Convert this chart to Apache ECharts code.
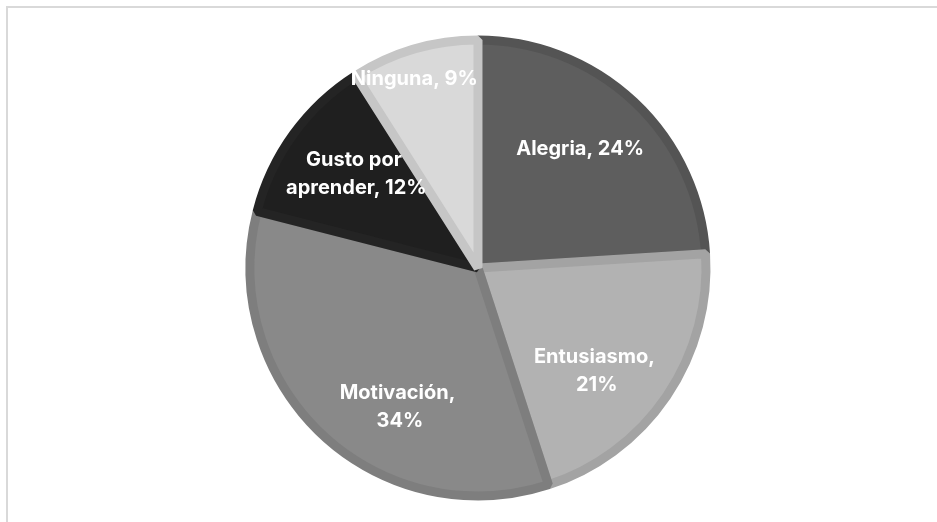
<!DOCTYPE html>
<html>
<head>
<meta charset="utf-8">
<script src="https://cdn.jsdelivr.net/npm/echarts@6/dist/echarts.min.js"></script>
<style>
  html, body { margin: 0; padding: 0; background: #ffffff; }
  #chart { width: 937px; height: 522px; }
</style>
</head>
<body>
<div id="chart"></div>
<script>
// ---- data ----
const categories = ['Alegria', 'Entusiasmo', 'Motivación', 'Gusto por aprender', 'Ninguna'];
const values = [24, 21, 34, 12, 9];

// ---- styles ----
const fillColors   = ['#5e5e5e', '#b2b2b2', '#898989', '#1f1f1f', '#d9d9d9'];
const borderColors = ['#545454', '#a3a3a3', '#7e7e7e', '#242424', '#c6c6c6'];
const labelOffsets = [[22, -34], [22, 37], [2, 54], [-27, -25], [-31, -77]];

const chart = echarts.init(document.getElementById('chart'), null, { renderer: 'canvas' });

const pieData = categories.map((name, i) => ({
  name: name,
  value: values[i],
  itemStyle: { color: fillColors[i], borderColor: borderColors[i] },
  label: { offset: labelOffsets[i] }
}));

chart.setOption({
  animation: false,
  backgroundColor: '#ffffff',
  graphic: [{
    type: 'rect',
    shape: { x: 7, y: 7, width: 1000, height: 600 },
    style: { fill: 'none', stroke: '#d9d9d9', lineWidth: 2 },
    silent: true,
    z: 0
  }],
  series: [{
    type: 'pie',
    center: [478, 268],
    radius: [0, 228],
    startAngle: 90,
    clockwise: true,
    avoidLabelOverlap: false,
    itemStyle: { borderWidth: 9, borderJoin: 'bevel' },
    label: {
      show: true,
      position: 'inside',
      color: '#ffffff',
      fontFamily: 'Inter',
      fontWeight: 'bold',
      fontSize: 20,
      lineHeight: 28,
      width: 150,
      overflow: 'break',
      align: 'center',
      formatter: (p) => p.name + ', ' + p.value + '%'
    },
    labelLine: { show: false },
    emphasis: { disabled: true },
    data: pieData
  }]
});
</script>
</body>
</html>
